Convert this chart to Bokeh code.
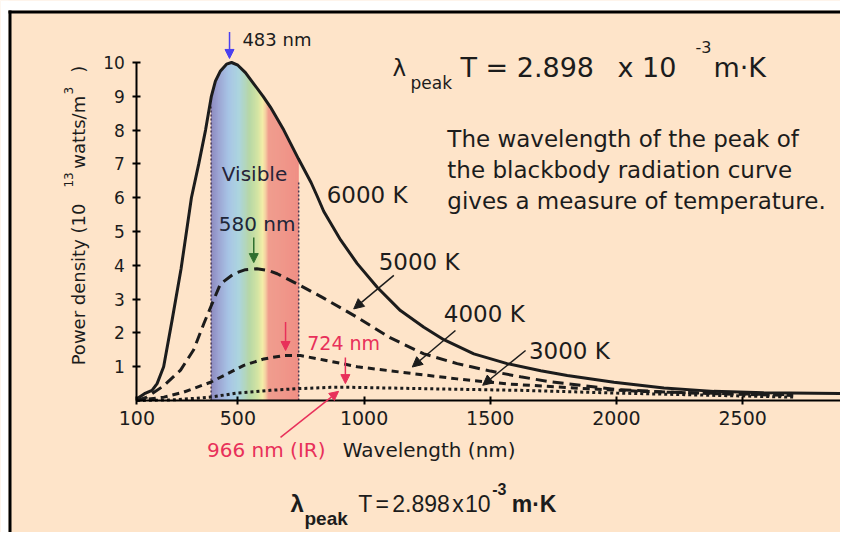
import numpy as np
from bokeh.plotting import figure
from bokeh.models import Range1d, FixedTicker, Label, Arrow, NormalHead, BoxAnnotation
from bokeh.embed import file_html
from bokeh.resources import INLINE

# ---------------- data ----------------
wl_6000 = [100, 130, 160, 180, 206, 240, 275, 316, 345, 372, 395, 411, 431, 455, 475, 500, 530,
           563, 600, 629, 682, 740, 790, 814, 840, 907, 973, 1052, 1144, 1237, 1316, 1435, 1567,
           1700, 1805, 1990, 2188, 2386, 2584, 2890]
pd_6000 = [0.05, 0.2, 0.3, 0.5, 1.0, 2.4, 3.9, 6.0, 7.0, 8.0, 9.0, 9.45, 9.75, 9.95, 10.0, 9.92, 9.7,
           9.37, 9.0, 8.68, 8.0, 7.15, 6.45, 6.05, 5.6, 4.75, 4.05, 3.35, 2.66, 2.17, 1.8, 1.38, 1.09,
           0.88, 0.74, 0.54, 0.37, 0.27, 0.23, 0.21]

wl_5000 = [100, 140, 207, 273, 325, 365, 392, 431, 484, 530, 575, 620, 656, 735, 840, 973, 1105,
           1237, 1369, 1501, 1620, 1725, 1990, 2200, 2450, 2700]
pd_5000 = [0, 0.1, 0.44, 0.9, 1.5, 2.27, 2.76, 3.45, 3.75, 3.87, 3.9, 3.85, 3.75, 3.45, 3.03, 2.46,
           1.85, 1.38, 1.09, 0.87, 0.7, 0.57, 0.33, 0.25, 0.2, 0.17]

wl_4000 = [100, 207, 286, 392, 458, 524, 603, 682, 748, 840, 973, 1144, 1369, 1567, 1857, 2100, 2400, 2700]
pd_4000 = [0, 0.1, 0.25, 0.54, 0.79, 1.04, 1.23, 1.33, 1.33, 1.2, 1.0, 0.84, 0.64, 0.49, 0.36, 0.27, 0.2, 0.15]

wl_3000 = [100, 250, 392, 497, 629, 735, 867, 950, 1237, 1620, 2000, 2400, 2700]
pd_3000 = [0, 0.02, 0.1, 0.22, 0.3, 0.35, 0.39, 0.39, 0.35, 0.3, 0.22, 0.15, 0.1]

temp_labels = ["6000 K", "5000 K", "4000 K", "3000 K"]
temp_label_wl = [852, 1058, 1316, 1653]
temp_label_pd = [6.07, 4.09, 2.56, 1.46]

# pointer arrows from the temperature labels to their curves
ptr_x0 = [1118, 1362, 1640]
ptr_y0 = [3.70, 2.07, 1.48]
ptr_x1 = [959, 1191, 1470]
ptr_y1 = [2.71, 0.99, 0.45]

peak_labels = ["483 nm", "580 nm", "724 nm", "966 nm (IR)"]
peak_arrow_wl = [467, 563, 689, 926]
peak_arrow_top = [10.90, 4.82, 2.32, 1.27]
peak_arrow_tip = [10.12, 4.08, 1.48, 0.50]

visible_band = [394, 741]
visible_edge_top = [8.7, 6.5]
spectrum_wl = [394, 425, 465, 505, 545, 580, 598, 610, 622, 741]
spectrum_col = ["#8a87bf", "#98a3d6", "#a2c4e8", "#a8d5e0", "#b4d7a6", "#d4e5a2", "#f4efa8",
                "#f5cfa0", "#f09a8c", "#ef8b82"]

x_ticks = [100, 500, 1000, 1500, 2000, 2500]
y_ticks = [1, 2, 3, 4, 5, 6, 7, 8, 9, 10]

BG = "#fee4c9"
INK = "#1c1c1c"
RED = "#e8305a"
FONT = "DejaVu Sans"

# ---------------- figure (plot area = whole canvas, axes placed inside) ----------------
W, H = 840, 532
PX_PER_NM = 0.2524          # screen pixels per nm
PX_PER_UNIT = 33.8          # screen pixels per 10^13 W/m^3
x0 = 100 - 136.4 / PX_PER_NM
y1 = 400 / PX_PER_UNIT
p = figure(width=W, height=H,
           x_range=Range1d(x0, x0 + W / PX_PER_NM), y_range=Range1d(y1 - H / PX_PER_UNIT, y1),
           output_backend="svg", toolbar_location=None, min_border=0,
           background_fill_color=BG, border_fill_color=BG, outline_line_color=None)
p.grid.visible = False


def sx(px):   # screen x -> data x
    return x0 + px / PX_PER_NM


def sy(py):   # screen y -> data y
    return y1 - py / PX_PER_UNIT


# white margin and black frame lines at the top and left of the panel
p.add_layout(BoxAnnotation(bottom=sy(10), fill_color="white", fill_alpha=1, line_alpha=0))
p.add_layout(BoxAnnotation(right=sx(8), fill_color="white", fill_alpha=1, line_alpha=0))
p.add_layout(BoxAnnotation(left=sx(8), bottom=sy(13), top=sy(10), fill_color="black",
                           fill_alpha=1, line_alpha=0))
p.add_layout(BoxAnnotation(left=sx(8), right=sx(11), top=sy(10), fill_color="black",
                           fill_alpha=1, line_alpha=0))

for ax in (p.xaxis[0], p.yaxis[0]):
    ax.axis_line_width = 2
    ax.axis_line_color = "black"
    ax.major_tick_line_width = 2
    ax.major_tick_line_color = "black"
    ax.major_tick_in = 4
    ax.major_tick_out = 4
    ax.minor_tick_line_color = None
    ax.major_label_text_font = FONT
    ax.major_label_text_color = INK

p.xaxis.fixed_location = 0
p.xaxis.bounds = (100, 2900)
p.xaxis.ticker = FixedTicker(ticks=x_ticks)
p.xaxis.major_label_text_font_size = "19px"
p.xaxis.major_label_standoff = 6
p.yaxis.fixed_location = 100
p.yaxis.bounds = (0, 10)
p.yaxis.ticker = FixedTicker(ticks=y_ticks)
p.yaxis.major_label_text_font_size = "17px"
p.yaxis.major_label_standoff = 8

# ---------------- visible spectrum under the 6000 K curve ----------------
def hex2rgb(h):
    h = h.lstrip("#")
    return [int(h[i:i + 2], 16) for i in (0, 2, 4)]

edges = np.arange(visible_band[0], visible_band[1] + 0.01, 2.0)
left = edges[:-1]
right = np.minimum(edges[1:] + 1.5, visible_band[1])
centers = (edges[:-1] + edges[1:]) / 2
tops = np.interp(centers, wl_6000, pd_6000)
rgb = np.array([hex2rgb(c) for c in spectrum_col], dtype=float)
cols = []
for c in centers:
    r, g, b = (np.interp(c, spectrum_wl, rgb[:, k]) for k in range(3))
    cols.append("#%02x%02x%02x" % (int(r), int(g), int(b)))
p.quad(left=left, right=right, bottom=0, top=tops, fill_color=cols, line_color=None)

p.segment(x0=visible_band, y0=[0, 0], x1=visible_band, y1=visible_edge_top,
          line_color="#4a3a55", line_width=1.5, line_dash="2 2")

# ---------------- curves ----------------
p.line(wl_3000, pd_3000, line_color=INK, line_width=3, line_dash="3 3")
p.line(wl_4000, pd_4000, line_color=INK, line_width=3, line_dash="7 5")
p.line(wl_5000, pd_5000, line_color=INK, line_width=3, line_dash="11 6")
p.line(wl_6000, pd_6000, line_color=INK, line_width=3)

# ---------------- arrows ----------------
for xa, ya, xb, yb in zip(ptr_x0, ptr_y0, ptr_x1, ptr_y1):
    p.add_layout(Arrow(x_start=xa, y_start=ya, x_end=xb, y_end=yb, line_color=INK, line_width=1.5,
                       end=NormalHead(size=10, fill_color=INK, line_color=INK)))

peak_cols = ["#4a3ff0", "#2f6f2f", RED, RED]
for x, ya, yb, c in zip(peak_arrow_wl, peak_arrow_top, peak_arrow_tip, peak_cols):
    p.add_layout(Arrow(x_start=x, y_start=ya, x_end=x, y_end=yb, line_color=c, line_width=1.5,
                       end=NormalHead(size=9, fill_color=c, line_color=c)))

# arrow from the "966 nm (IR)" caption to the 3000 K curve
p.add_layout(Arrow(x_start=669, y_start=-1.09, x_end=899, y_end=0.27, line_color=RED, line_width=1.5,
                   end=NormalHead(size=9, fill_color=RED, line_color=RED)))

# ---------------- texts ----------------
def lab(x, y, t, size, color=INK, font=FONT, align="left", baseline="middle", angle=0, style="normal"):
    p.add_layout(Label(x=x, y=y, text=t, text_font=font, text_font_size=f"{size}px", text_color=color,
                       text_align=align, text_baseline=baseline, angle=angle, text_font_style=style))

for t, x, y in zip(temp_labels, temp_label_wl, temp_label_pd):
    lab(x, y, t, 23)

lab(518, 10.68, peak_labels[0], 18)
lab(424, 5.21, peak_labels[1], 20, color="#1e2638")
lab(775, 1.69, peak_labels[2], 19, color=RED)
lab(378, -1.45, peak_labels[3], 20, color=RED)
lab(566, 6.69, "Visible", 20, color="#262338", align="center")
lab(916, -1.45, "Wavelength (nm)", 20)

# top formula
lab(1113, 9.85, "\u03bb", 23, baseline="alphabetic")
lab(1184, 9.40, "peak", 17, baseline="alphabetic")
lab(1382, 9.85, "T = 2.898", 27, baseline="alphabetic")
lab(2004, 9.85, "x 10", 27, baseline="alphabetic")
lab(2313, 10.45, "-3", 16, baseline="alphabetic")
lab(2384, 9.85, "m\u00b7K", 27, baseline="alphabetic")

# explanatory paragraph
para = ["The wavelength of the peak of", "the blackbody radiation curve",
        "gives a measure of temperature."]
for i, line in enumerate(para):
    lab(1330, 7.75 - 0.917 * i, line, 23, baseline="alphabetic")

# bottom formula (condensed look: each token placed on its own)
SANS = "Liberation Sans"
BASE = -3.05
lab(709, BASE, "\u03bb", 24, font=SANS, baseline="alphabetic", style="bold")
lab(764, -3.50, "peak", 19, font=SANS, baseline="alphabetic", style="bold")
lab(977, BASE, "T", 23, font=SANS, baseline="alphabetic")
lab(1045, BASE, "=", 23, font=SANS, baseline="alphabetic")
lab(1112, BASE, "2.898", 23, font=SANS, baseline="alphabetic")
lab(1349, BASE, "x", 23, font=SANS, baseline="alphabetic")
lab(1400, BASE, "10", 23, font=SANS, baseline="alphabetic")
lab(1508, -2.62, "-3", 16, font=SANS, baseline="alphabetic", style="bold")
lab(1585, BASE, "m\u00b7K", 23, font=SANS, baseline="alphabetic", style="bold")

# y axis title (rotated, with superscripts)
A = np.pi / 2
lab(-132, 1.04, "Power density (10", 18, baseline="alphabetic", angle=A)
lab(-170, 6.30, "13", 12, baseline="alphabetic", angle=A)
lab(-132, 6.86, "watts/m", 18, baseline="alphabetic", angle=A)
lab(-170, 9.05, "3", 12, baseline="alphabetic", angle=A)
lab(-132, 9.70, ")", 18, baseline="alphabetic", angle=A)

open("out.html", "w").write(file_html(p, INLINE))
